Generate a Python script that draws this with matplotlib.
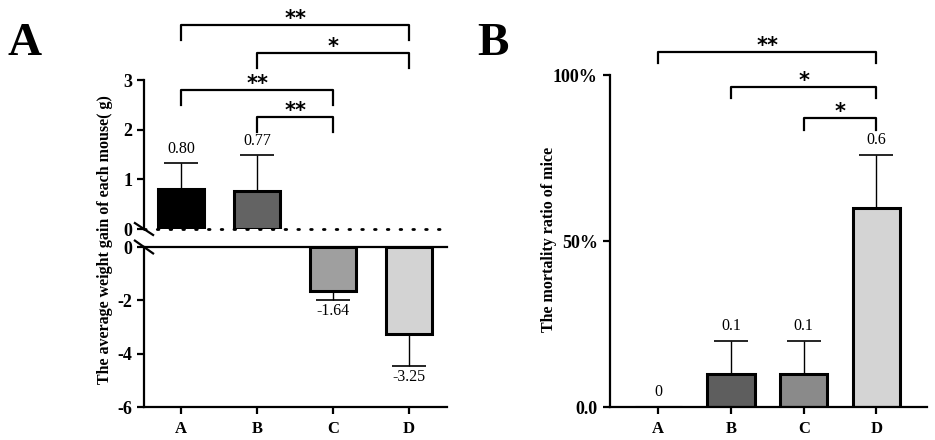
import matplotlib.pyplot as plt
import numpy as np

plt.rcParams['font.family'] = ['Liberation Serif', 'DejaVu Serif']
plt.rcParams['axes.unicode_minus'] = False

groups = ['A', 'B', 'C', 'D']
gain = [0.80, 0.77, -1.64, -3.25]
gain_err = [0.53, 0.72, 0.33, 1.21]
gain_lbl = ['0.80', '0.77', '-1.64', '-3.25']
gain_colors = ['#000000', '#636363', '#9f9f9f', '#d3d3d3']

mort = [0.0, 0.1, 0.1, 0.6]
mort_err = [0.0, 0.1, 0.1, 0.16]
mort_lbl = ['0', '0.1', '0.1', '0.6']
mort_colors = ['#000000', '#5e5e5e', '#8a8a8a', '#d4d4d4']

# (left, right, y, stars)
sig_a = [(0, 3, 4.1, '**'), (1, 3, 3.55, '*'), (0, 2, 2.8, '**'), (1, 2, 2.25, '**')]
sig_b = [(0, 3, 1.07, '**'), (1, 3, 0.965, '*'), (2, 3, 0.87, '*')]

fig = plt.figure(figsize=(9.35, 4.4), dpi=100)
x = np.arange(len(groups))
lw = 2.2

def style(ax):
    for s in ['top', 'right']:
        ax.spines[s].set_visible(False)
    for s in ['left', 'bottom']:
        ax.spines[s].set_linewidth(1.6)
    ax.tick_params(width=1.6, length=5)
    for t in ax.get_yticklabels():
        t.set_fontweight('bold')
        t.set_fontsize(13)
    for t in ax.get_xticklabels():
        t.set_fontweight('bold')
        t.set_fontsize(12)

def bracket(ax, a, b, y, h, txt, fs=15):
    ax.plot([x[a], x[a], x[b], x[b]], [y - h, y, y, y - h], color='black', lw=1.6, clip_on=False)
    ax.text((x[a] + x[b]) / 2, y, txt, ha='center', va='baseline', fontsize=fs,
            fontweight='bold', family='DejaVu Sans')

# ---- panel A ----
axt = fig.add_axes([0.154, 0.4795, 0.324, 0.3386])
axb = fig.add_axes([0.154, 0.075, 0.324, 0.3636])
for i in range(4):
    if gain[i] > 0:
        axt.bar(x[i], gain[i], width=0.6, color=gain_colors[i], edgecolor='black', linewidth=lw, zorder=2)
        axt.errorbar(x[i], gain[i], yerr=[[0], [gain_err[i]]], color='black', lw=1, capsize=12, capthick=1.2, zorder=1)
        axt.text(x[i], gain[i] + gain_err[i] + 0.12, gain_lbl[i], ha='center', va='bottom', fontsize=11.5)
    else:
        axb.bar(x[i], gain[i], width=0.6, color=gain_colors[i], edgecolor='black', linewidth=lw, zorder=2)
        axb.errorbar(x[i], gain[i], yerr=[[gain_err[i]], [0]], color='black', lw=1, capsize=12, capthick=1.2, zorder=1)
        axb.text(x[i], gain[i] - gain_err[i] - 0.12, gain_lbl[i], ha='center', va='top', fontsize=11.5)

for ax in (axt, axb):
    ax.set_xlim(-0.49, 3.5)

axt.set_ylim(0, 3)
axt.set_yticks([0, 1, 2, 3])
axt.set_xticks([])
axt.axhline(0, color='black', lw=2, ls=(0, (0.6, 4)), dash_capstyle='round', zorder=3, clip_on=False)
style(axt)
axt.spines['bottom'].set_visible(False)

axb.set_ylim(-6, 0)
axb.set_yticks([0, -2, -4, -6])
axb.set_xticks(x)
axb.set_xticklabels(groups)
axb.axhline(0, color='black', lw=1.6, zorder=3, clip_on=False)
style(axb)
axb.tick_params(axis='x', pad=5)

# break marks
for ax, yy in ((axt, 0.0), (axb, 1.0)):
    dx, dy = 0.03, 0.04
    ax.plot([-dx, dx], [yy + dy, yy - dy], transform=ax.transAxes, color='black', lw=1.6, clip_on=False)

for a, b, y, s in sig_a:
    bracket(axt, a, b, y, 0.3, s)

fig.text(0.112, 0.455, 'The average weight gain of each mouse( g)', rotation=90, ha='center', va='center',
         fontsize=11.5, fontweight='bold')

# ---- panel B ----
axr = fig.add_axes([0.652, 0.075, 0.339, 0.7545])
axr.bar(x, mort, width=0.65, color=mort_colors, edgecolor='black', linewidth=lw, zorder=2)
for i in range(4):
    if mort_err[i] > 0:
        axr.errorbar(x[i], mort[i], yerr=[[0], [mort_err[i]]], color='black', lw=1, capsize=12, capthick=1.2, zorder=1)
    axr.text(x[i], mort[i] + mort_err[i] + 0.02, mort_lbl[i], ha='center', va='bottom', fontsize=11.5)
axr.set_xlim(-0.67, 3.69)
axr.set_ylim(0, 1)
axr.set_yticks([0, 0.5, 1.0])
axr.set_yticklabels(['0.0', '50%', '100%'])
axr.set_xticks(x)
axr.set_xticklabels(groups)
style(axr)
axr.tick_params(axis='x', pad=5)
fig.text(0.587, 0.455, 'The mortality ratio of mice', rotation=90, ha='center', va='center',
         fontsize=11.5, fontweight='bold')
for a, b, y, s in sig_b:
    bracket(axr, a, b, y, 0.035, s)

fig.text(0.008, 0.9, 'A', fontsize=34, fontweight='bold', va='center', ha='left')
fig.text(0.51, 0.9, 'B', fontsize=34, fontweight='bold', va='center', ha='left')

fig.savefig('out.png', dpi=100)
